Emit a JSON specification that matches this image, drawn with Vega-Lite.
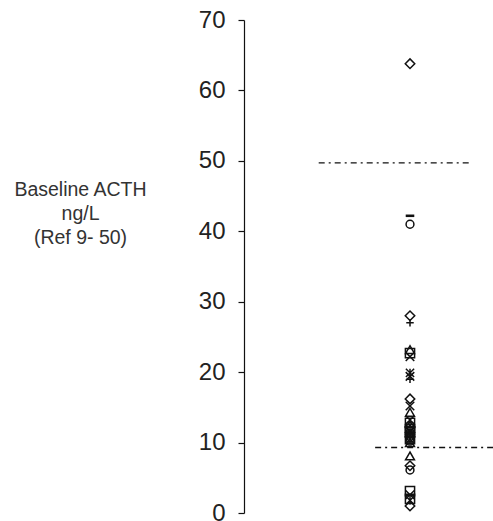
{
  "$schema": "https://vega.github.io/schema/vega-lite/v6.json",
  "width": 249,
  "height": 493,
  "autosize": {"type": "none"},
  "padding": {"left": 244, "top": 20, "right": 0, "bottom": 8},
  "background": "white",
  "config": {
    "view": {"stroke": null},
    "font": "Liberation Sans"
  },
  "datasets": {
    "refs": [
      {"label": "upper", "y": 49.7, "x": 0.45, "x2": 1.37},
      {"label": "lower", "y": 9.3, "x": 0.79, "x2": 1.5}
    ],
    "acth": [
      {"marker": "diamond", "value": 63.8},
      {"marker": "diamond", "value": 28.0},
      {"marker": "diamond", "value": 16.2},
      {"marker": "diamond", "value": 12.2},
      {"marker": "diamond", "value": 10.8},
      {"marker": "diamond", "value": 6.7},
      {"marker": "diamond", "value": 1.0},
      {"marker": "dash", "value": 42.2},
      {"marker": "circle", "value": 41.0},
      {"marker": "circle", "value": 12.4},
      {"marker": "circle", "value": 11.2},
      {"marker": "circle", "value": 10.6},
      {"marker": "circle", "value": 10.2},
      {"marker": "circle", "value": 6.1},
      {"marker": "plus", "value": 27.0},
      {"marker": "plus", "value": 19.0},
      {"marker": "triangle", "value": 23.2},
      {"marker": "triangle", "value": 14.3},
      {"marker": "triangle", "value": 12.0},
      {"marker": "triangle", "value": 11.4},
      {"marker": "triangle", "value": 10.0},
      {"marker": "triangle", "value": 8.1},
      {"marker": "square", "value": 22.7},
      {"marker": "square", "value": 12.8},
      {"marker": "square", "value": 11.9},
      {"marker": "square", "value": 11.6},
      {"marker": "square", "value": 10.5},
      {"marker": "square", "value": 3.1},
      {"marker": "square", "value": 2.0},
      {"marker": "x", "value": 22.2},
      {"marker": "x", "value": 19.4},
      {"marker": "x", "value": 15.2},
      {"marker": "x", "value": 13.2},
      {"marker": "x", "value": 2.6},
      {"marker": "star", "value": 19.9},
      {"marker": "star", "value": 11.0},
      {"marker": "star", "value": 1.8}
    ]
  },
  "layer": [
    {
      "data": {"name": "refs"},
      "mark": {"type": "rule", "stroke": "#111", "strokeWidth": 1.3, "strokeDash": [6, 4, 2, 4]},
      "encoding": {
        "x": {"field": "x", "type": "quantitative", "scale": {"domain": [0, 1.5]}, "axis": null},
        "x2": {"field": "x2"},
        "y": {"field": "y", "type": "quantitative"}
      }
    },
    {
      "data": {"name": "acth"},
      "mark": {"type": "point", "filled": false, "stroke": "#111", "strokeWidth": 1.5, "opacity": 1},
      "encoding": {
        "x": {"datum": 1, "type": "quantitative", "scale": {"domain": [0, 1.5]}, "axis": null},
        "y": {
          "field": "value",
          "type": "quantitative",
          "scale": {"domain": [0, 70], "nice": false, "zero": true},
          "axis": {
            "values": [0, 10, 20, 30, 40, 50, 60, 70],
            "grid": false,
            "domainColor": "#111",
            "domainWidth": 1.2,
            "tickColor": "#111",
            "tickWidth": 1.2,
            "tickSize": 6,
            "labelFontSize": 24,
            "labelColor": "#222",
            "labelPadding": 13,
            "labelFont": "Liberation Sans",
            "title": ["Baseline ACTH", "ng/L", "(Ref 9- 50)"],
            "titleAngle": 0,
            "titleAlign": "center",
            "titleBaseline": "alphabetic",
            "titleX": -164,
            "titleY": 175,
            "titleFontSize": 19.5,
            "titleFontWeight": "normal",
            "titleLineHeight": 24,
            "titleColor": "#333",
            "titleFont": "Liberation Sans"
          }
        },
        "shape": {
          "field": "marker",
          "type": "nominal",
          "legend": null,
          "scale": {
            "domain": ["diamond", "square", "triangle", "x", "star", "circle", "plus", "dash"],
            "range": ["diamond", "square", "triangle-up", "M-1,-1L1,1M-1,1L1,-1", "M-1,-1L1,1M-1,1L1,-1M0,-1L0,1", "circle", "M-1,0L1,0M0,-1L0,1", "M-1,-0.15L1,-0.15L1,0.15L-1,0.15Z"]
          }
        },
        "size": {
          "field": "marker",
          "type": "nominal",
          "legend": null,
          "scale": {
            "domain": ["diamond", "square", "triangle", "x", "star", "circle", "plus", "dash"],
            "range": [90, 50, 60, 45, 50, 55, 55, 90]
          }
        }
      }
    }
  ]
}
